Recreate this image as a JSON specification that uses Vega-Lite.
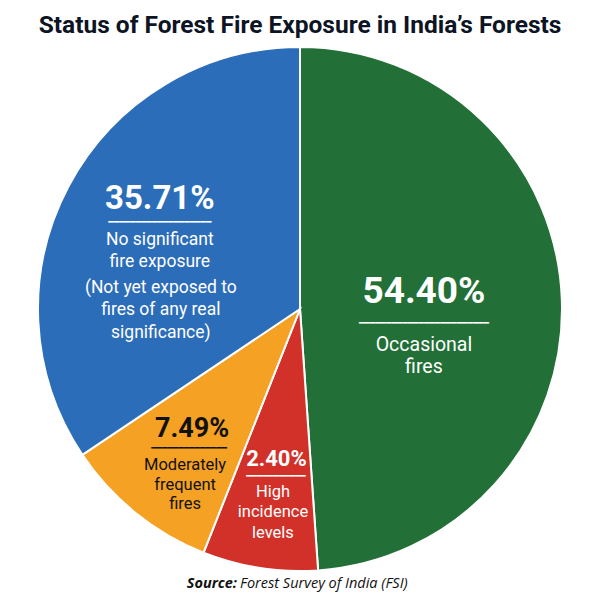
{
  "$schema": "https://vega.github.io/schema/vega-lite/v6.json",
  "padding": {"top": 13, "left": 0, "right": 0, "bottom": 0},
  "background": "white",
  "title": {
    "text": "Status of Forest Fire Exposure in India’s Forests",
    "font": "Roboto",
    "fontSize": 24.5,
    "fontWeight": "bold",
    "color": "#0d1424",
    "anchor": "middle",
    "offset": 4.5
  },
  "spacing": 0,
  "config": {"view": {"stroke": null}},
  "datasets": {
    "slices": [
      {"cat": "Occasional fires", "idx": 1, "share": 48.9, "pct": "54.40%", "desc": "Occasional\nfires", "note": ""},
      {"cat": "High incidence levels", "idx": 2, "share": 7.1, "pct": "2.40%", "desc": "High\nincidence\nlevels", "note": ""},
      {"cat": "Moderately frequent fires", "idx": 3, "share": 9.6, "pct": "7.49%", "desc": "Moderately\nfrequent\nfires", "note": ""},
      {"cat": "No significant fire exposure", "idx": 4, "share": 34.4, "pct": "35.71%", "desc": "No significant\nfire exposure", "note": "(Not yet exposed to\nfires of any real\nsignificance)"}
    ],
    "source": [{"a": "Source:", "b": "Forest Survey of India (FSI)"}]
  },
  "vconcat": [
    {
      "width": 600,
      "height": 524,
      "data": {"name": "slices"},
      "encoding": {
        "theta": {"field": "share", "type": "quantitative", "stack": true},
        "order": {"field": "idx", "type": "quantitative"},
        "detail": {"field": "cat", "type": "nominal"}
      },
      "layer": [
        {
          "mark": {"type": "arc", "stroke": "white", "strokeWidth": 2},
          "encoding": {
            "color": {
              "field": "cat", "type": "nominal", "legend": null,
              "scale": {
                "domain": ["Occasional fires", "High incidence levels", "Moderately frequent fires", "No significant fire exposure"],
                "range": ["#226f37", "#d2312a", "#f4a124", "#2c6db9"]
              }
            }
          }
        },
        {
          "mark": {"type": "text", "radius": 124, "dx": 0, "dy": -2, "font": "Roboto", "fontWeight": "bold", "fontSize": 37, "fill": "white", "align": "center", "baseline": "alphabetic"},
          "encoding": {"text": {"condition": {"test": "datum.idx == 1", "field": "pct"}, "value": ""}}
        },
        {
          "mark": {"type": "text", "radius": 124, "dx": 0, "dy": 21, "font": "DejaVu Sans", "fontSize": 9, "fill": "white", "align": "center", "baseline": "alphabetic"},
          "encoding": {"text": {"condition": {"test": "datum.idx == 1", "value": "━━━━━━━━━━━━━━━━━━━━━━━━"}, "value": ""}}
        },
        {
          "mark": {"type": "text", "radius": 124, "dx": 0, "dy": 46, "font": "Roboto", "fontSize": 19.5, "lineHeight": 22, "lineBreak": "\n", "fill": "white", "align": "center", "baseline": "alphabetic"},
          "encoding": {"text": {"condition": {"test": "datum.idx == 1", "field": "desc"}, "value": ""}}
        },
        {
          "mark": {"type": "text", "radius": 160, "dx": 1, "dy": -25, "font": "Roboto", "fontWeight": "bold", "fontSize": 33, "fill": "white", "align": "center", "baseline": "alphabetic"},
          "encoding": {"text": {"condition": {"test": "datum.idx == 4", "field": "pct"}, "value": ""}}
        },
        {
          "mark": {"type": "text", "radius": 160, "dx": 1, "dy": -8.6, "font": "DejaVu Sans", "fontSize": 9, "fill": "white", "align": "center", "baseline": "alphabetic"},
          "encoding": {"text": {"condition": {"test": "datum.idx == 4", "value": "━━━━━━━━━━━━━━━━━━━"}, "value": ""}}
        },
        {
          "mark": {"type": "text", "radius": 160, "dx": 1, "dy": 11, "font": "Roboto", "fontSize": 17.5, "lineHeight": 22.5, "lineBreak": "\n", "fill": "white", "align": "center", "baseline": "alphabetic"},
          "encoding": {"text": {"condition": {"test": "datum.idx == 4", "field": "desc"}, "value": ""}}
        },
        {
          "mark": {"type": "text", "radius": 160, "dx": 2, "dy": 59, "font": "Roboto", "fontSize": 17.5, "lineHeight": 22.5, "lineBreak": "\n", "fill": "white", "align": "center", "baseline": "alphabetic"},
          "encoding": {"text": {"condition": {"test": "datum.idx == 4", "field": "note"}, "value": ""}}
        },
        {
          "mark": {"type": "text", "radius": 160, "dx": -7.5, "dy": 3.5, "font": "Roboto", "fontWeight": "bold", "fontSize": 27, "fill": "#111111", "align": "center", "baseline": "alphabetic"},
          "encoding": {"text": {"condition": {"test": "datum.idx == 3", "field": "pct"}, "value": ""}}
        },
        {
          "mark": {"type": "text", "radius": 160, "dx": -10.5, "dy": 17.5, "font": "DejaVu Sans", "fontSize": 9, "fill": "#111111", "align": "center", "baseline": "alphabetic"},
          "encoding": {"text": {"condition": {"test": "datum.idx == 3", "value": "━━━━━━━━━━━━━━"}, "value": ""}}
        },
        {
          "mark": {"type": "text", "radius": 160, "dx": -14.5, "dy": 36.5, "font": "Roboto", "fontSize": 16.5, "lineHeight": 19.5, "lineBreak": "\n", "fill": "#111111", "align": "center", "baseline": "alphabetic"},
          "encoding": {"text": {"condition": {"test": "datum.idx == 3", "field": "desc"}, "value": ""}}
        },
        {
          "mark": {"type": "text", "radius": 160, "dx": 1, "dy": -1, "font": "Roboto", "fontWeight": "bold", "fontSize": 22, "fill": "white", "align": "center", "baseline": "alphabetic"},
          "encoding": {"text": {"condition": {"test": "datum.idx == 2", "field": "pct"}, "value": ""}}
        },
        {
          "mark": {"type": "text", "radius": 160, "dx": 0.5, "dy": 12, "font": "DejaVu Sans", "fontSize": 9, "fill": "white", "align": "center", "baseline": "alphabetic"},
          "encoding": {"text": {"condition": {"test": "datum.idx == 2", "value": "━━━━━━━━━━━"}, "value": ""}}
        },
        {
          "mark": {"type": "text", "radius": 160, "dx": -2.5, "dy": 29.5, "font": "Roboto", "fontSize": 16.5, "lineHeight": 20.5, "lineBreak": "\n", "fill": "white", "align": "center", "baseline": "alphabetic"},
          "encoding": {"text": {"condition": {"test": "datum.idx == 2", "field": "desc"}, "value": ""}}
        }
      ]
    },
    {
      "width": 600,
      "height": 30,
      "data": {"name": "source"},
      "layer": [
        {
          "mark": {"type": "text", "font": "Open Sans", "fontSize": 14.5, "fontWeight": "bold", "fontStyle": "italic", "fill": "#111111", "align": "right", "baseline": "alphabetic", "dx": -63, "dy": -2},
          "encoding": {"text": {"field": "a"}}
        },
        {
          "mark": {"type": "text", "font": "Open Sans", "fontSize": 14.5, "fontStyle": "italic", "fill": "#111111", "align": "left", "baseline": "alphabetic", "dx": -60, "dy": -2},
          "encoding": {"text": {"field": "b"}}
        }
      ]
    }
  ]
}
